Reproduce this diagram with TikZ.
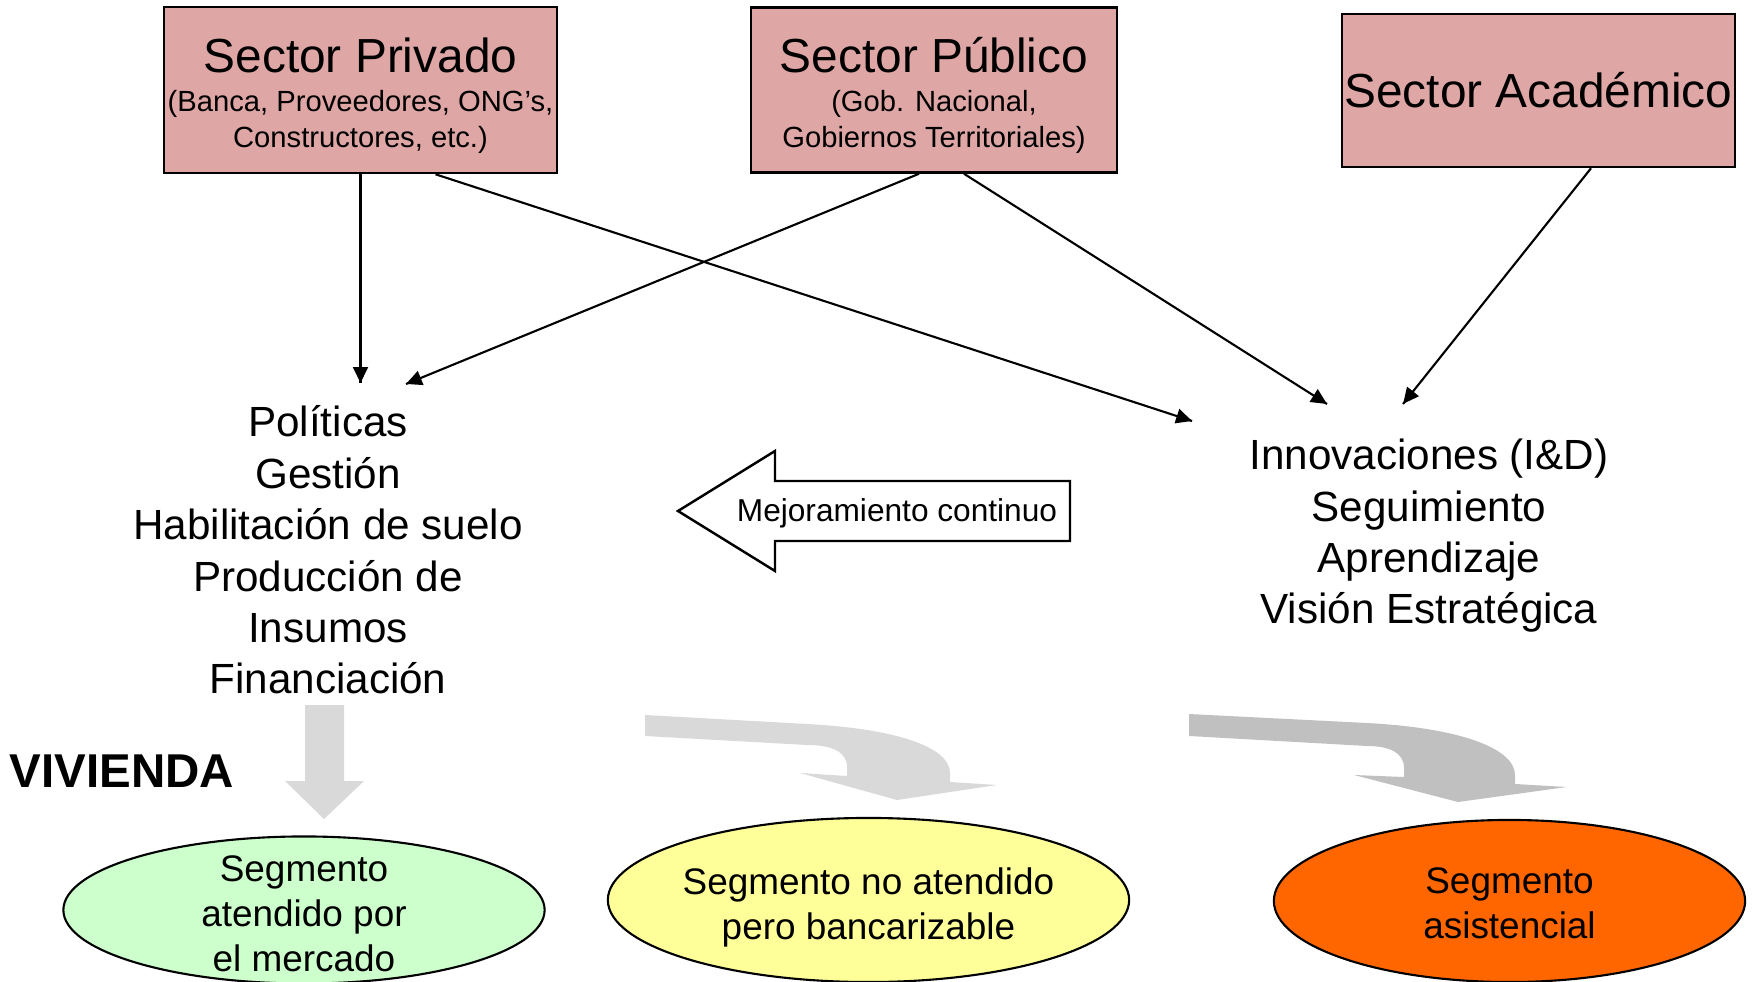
\documentclass[tikz,border=0pt]{standalone}
\usepackage{fontspec}
\setmainfont{Liberation Sans}
\usetikzlibrary{shapes.geometric,arrows.meta,calc,decorations.markings}
\definecolor{rosa}{RGB}{223,166,166}
\definecolor{verdeclaro}{RGB}{204,255,204}
\definecolor{amarillo}{RGB}{255,255,153}
\definecolor{naranja}{RGB}{255,102,0}
\definecolor{grisclaro}{RGB}{217,217,217}
\definecolor{grisoscuro}{RGB}{192,192,192}
\tikzstyle{sector}=[rectangle, draw, fill=rosa, line width=0.7pt, align=center, inner sep=0pt, font=\fontsize{8.3}{10}\selectfont]
\tikzstyle{segmento}=[ellipse, draw, line width=0.6pt, inner sep=0pt]
\tikzstyle{segtexto}=[align=center, font=\fontsize{10.5}{12.8}\selectfont]
\tikzstyle{lista}=[align=center, font=\fontsize{12}{14.6}\selectfont]
\providecommand{\titulo}[1]{{\fontsize{13.6}{16}\selectfont\rule{0pt}{13.1pt}#1}}

\begin{document}
\begin{tikzpicture}[x=0.01cm, y=-0.01cm,
    every edge/.style={
        draw, line width=0.6pt,
        postaction={decorate,
                    decoration={markings,mark=at position 1 with {\arrow{Triangle[length=4.5pt,width=4.2pt]}}}
                   }
        }
]
\useasboundingbox (0,0) rectangle (1757,982);
% sectores
\node[sector, minimum width=3.93cm, minimum height=1.66cm] (priv) at (360.5,90) {\titulo{Sector Privado}\\[1.1pt] (Banca, Proveedores, ONG’s,\\ Constructores, etc.)};
\node[sector, minimum width=3.66cm, minimum height=1.65cm] (pub) at (934,90) {\titulo{Sector Público}\\[1.1pt] (Gob. Nacional,\\ Gobiernos Territoriales)};
\node[sector, minimum width=3.93cm, minimum height=1.53cm] (aca) at (1538.5,90.5) {{\fontsize{13.6}{16}\selectfont Sector Académico}};
% listas
\node[lista] (pol) at (328,550) {Políticas\\ Gestión\\ Habilitación de suelo\\ Producción de\\ Insumos\\ Financiación};
\node[lista] (inn) at (1429,536) {Innovaciones (I\&D)\\ Seguimiento\\ Aprendizaje\\ Visión Estratégica};
% mejoramiento continuo
\draw[line width=0.7pt, fill=white] (678,511) -- (775,451) -- (775,481) -- (1070,481) -- (1070,541) -- (775,541) -- (775,571) -- cycle;
\node[font=\fontsize{9}{11}\selectfont] (mejora) at (897,513.5) {Mejoramiento continuo};
\node[font=\bfseries\fontsize{13.5}{16}\selectfont] (viv) at (122,771) {VIVIENDA};
% flechas grises
\fill[grisclaro] (305,705) -- (344,705) -- (344,781) -- (364,781) -- (324,819) -- (285,781) -- (305,781) -- cycle;
\fill[grisclaro] (645,715) -- (807,724) .. controls (900,729) and (950,748) .. (950,773) -- (950,782) -- (997,785) -- (897,800) -- (800,773) -- (847,776) -- (847,767) .. controls (847,752) and (832,745) .. (807,745) -- (645,736) -- cycle;
\fill[grisoscuro] (1189,714) -- (1367,723) .. controls (1462,728) and (1515,749) .. (1515,775) -- (1515,784) -- (1567,787) -- (1458,802) -- (1354,775) -- (1404,777) -- (1404,768) .. controls (1404,753) and (1390,746) .. (1367,746) -- (1189,736) -- cycle;
% segmentos
\node[segmento, fill=verdeclaro, minimum width=4.81cm, minimum height=1.47cm] (seg1) at (304,910) {};
\node[segtexto] (seg1txt) at ($(seg1)+(0,3.5)$) {Segmento\\ atendido por\\ el mercado};
\node[segmento, fill=amarillo, minimum width=5.21cm, minimum height=1.64cm] (seg2) at (868.5,900) {};
\node[segtexto] (seg2txt) at ($(seg2)+(0,7)$) {Segmento no atendido\\ pero bancarizable};
\node[segmento, fill=naranja, minimum width=4.71cm, minimum height=1.62cm] (seg3) at (1509.5,901) {};
\node[segtexto] (seg3txt) at ($(seg3)+(0,2.5)$) {Segmento\\ asistencial};
\path
(priv.south) edge ($(pol.center)+(32.5,-167)$)
($(priv.south)+(75,0)$) edge ($(inn.center)+(-237,-115)$)
($(pub.south)+(-15,0)$) edge ($(pol.center)+(78,-166)$)
($(pub.south)+(30,0)$) edge ($(inn.center)+(-102,-132)$)
($(aca.south)+(52.5,0)$) edge ($(inn.center)+(-26,-132)$)
;
\end{tikzpicture}
\end{document}
